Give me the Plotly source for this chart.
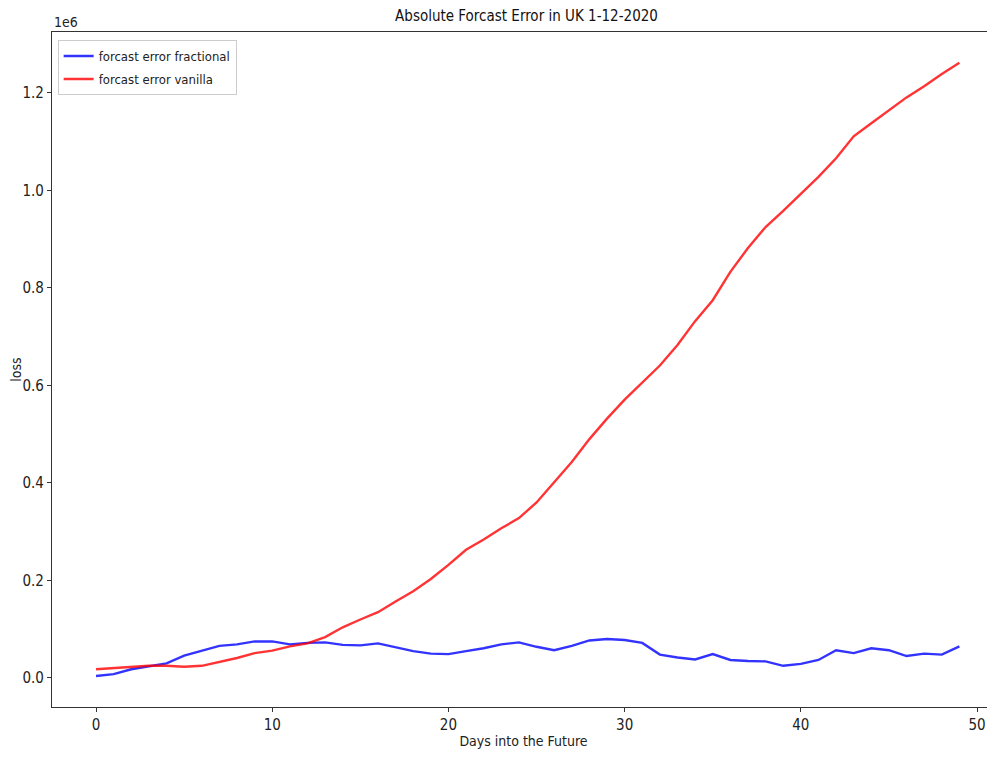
import plotly.graph_objects as go

days = list(range(50))
fractional = [0.004, 0.008, 0.018, 0.024, 0.030, 0.046, 0.056, 0.066, 0.069, 0.075,
              0.075, 0.069, 0.072, 0.073, 0.068, 0.067, 0.071, 0.063, 0.055, 0.050,
              0.049, 0.055, 0.061, 0.069, 0.073, 0.064, 0.057, 0.066, 0.077, 0.080,
              0.078, 0.072, 0.048, 0.042, 0.038, 0.049, 0.037, 0.035, 0.034, 0.025,
              0.029, 0.037, 0.057, 0.051, 0.061, 0.057, 0.045, 0.050, 0.048, 0.065]
vanilla = [0.018, 0.020, 0.022, 0.025, 0.025, 0.023, 0.025, 0.033, 0.041, 0.051,
           0.056, 0.065, 0.071, 0.084, 0.104, 0.120, 0.135, 0.157, 0.178, 0.203,
           0.232, 0.263, 0.284, 0.307, 0.328, 0.360, 0.401, 0.443, 0.490, 0.532,
           0.571, 0.605, 0.641, 0.683, 0.732, 0.775, 0.833, 0.882, 0.925, 0.958,
           0.992, 1.028, 1.066, 1.111, 1.138, 1.165, 1.191, 1.214, 1.239, 1.262]
fractional = [v * 1e6 for v in fractional]
vanilla = [v * 1e6 for v in vanilla]

y_tickvals = [0, 0.2e6, 0.4e6, 0.6e6, 0.8e6, 1.0e6, 1.2e6]
y_ticktext = ["0.0", "0.2", "0.4", "0.6", "0.8", "1.0", "1.2"]
x_tickvals = [0, 10, 20, 30, 40, 50]

FONT = "Liberation Sans Narrow, DejaVu Sans Condensed, DejaVu Sans, sans-serif"

# page body has an 8px margin, so the figure is sized/offset to compensate
W, H = 987, 741

fig = go.Figure()
fig.add_trace(go.Scatter(x=days, y=fractional, mode="lines", name="forcast error fractional",
                         legendgroup="a",
                         line=dict(color="rgba(0,0,255,0.8)", width=2.4)))
fig.add_trace(go.Scatter(x=days, y=vanilla, mode="lines", name="forcast error vanilla",
                         legendgroup="b",
                         line=dict(color="rgba(255,0,0,0.8)", width=2.4)))

fig.update_layout(
    width=W, height=H,
    margin=dict(l=44, r=0, t=24, b=42),
    plot_bgcolor="white", paper_bgcolor="white",
    font=dict(family=FONT, size=15, color="#222"),
    title=dict(text="Absolute Forcast Error in UK 1-12-2020", xref="container",
               x=(526.5 - 8) / W, xanchor="center", yref="container", y=1 - 8 / H,
               yanchor="middle", font=dict(size=15, color="#111")),
    legend=dict(x=0.006, y=0.988, xanchor="left", yanchor="top",
                bgcolor="rgba(255,255,255,0.8)", bordercolor="#cccccc", borderwidth=1,
                font=dict(size=13, color="#222"), tracegroupgap=3, itemwidth=30),
    showlegend=True,
)
fig.update_xaxes(range=[-2.5, 51.02], tickvals=x_tickvals, ticks="outside", ticklen=4,
                 tickcolor="#333", showline=True, linecolor="#333", linewidth=1.2,
                 mirror=True, showgrid=False, zeroline=False, automargin=False,
                 title=dict(text="Days into the Future", font=dict(size=14), standoff=6))
fig.update_yaxes(range=[-0.0595e6, 1.3251e6], tickvals=y_tickvals, ticktext=y_ticktext,
                 ticks="outside", ticklen=4, tickcolor="#333", showline=True,
                 linecolor="#333", linewidth=1.2, showgrid=False, zeroline=False,
                 automargin=False,
                 title=dict(text="loss", font=dict(size=14), standoff=12))
fig.add_annotation(text="1e6", xref="paper", yref="paper", x=0, y=1, xanchor="left",
                   yanchor="bottom", showarrow=False, font=dict(size=14, color="#222"),
                   yshift=0)

fig.write_html("out.html")
